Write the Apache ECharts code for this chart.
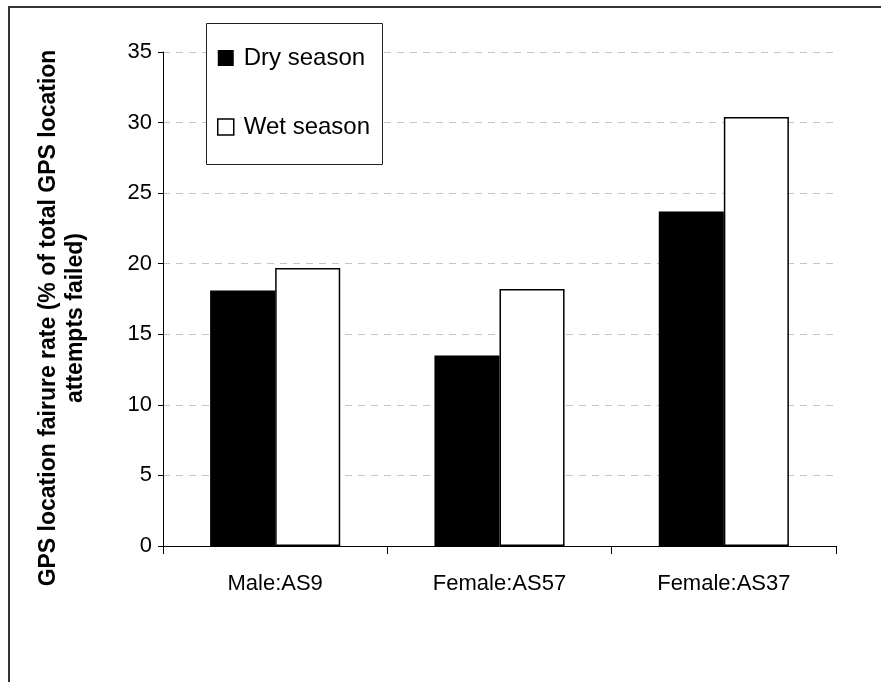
<!DOCTYPE html>
<html>
<head>
<meta charset="utf-8">
<style>
  html, body { margin: 0; padding: 0; background: #fff; }
  #chart { width: 881px; height: 682px; }
</style>
<script src="https://cdn.jsdelivr.net/npm/echarts@6/dist/echarts.min.js"></script>
</head>
<body>
<div id="chart"></div>
<script>
// GPS location failure rate per collared animal, by season
const categories = ['Male:AS9', 'Female:AS57', 'Female:AS37'];
const drySeason = [18.1, 13.5, 23.7];
const wetSeason = [19.7, 18.2, 30.4];
const yMin = 0, yMax = 35, yStep = 5;
const titleLines = ['GPS location fairure rate (% of total GPS location', 'attempts failed)'];
const seriesNames = ['Dry season', 'Wet season'];

const FONT = '"Liberation Sans", Arial, sans-serif';

const chart = echarts.init(document.getElementById('chart'), null, { renderer: 'canvas' });

chart.setOption({
  backgroundColor: '#ffffff',
  animation: false,
  grid: { left: 163, right: 45, top: 52, bottom: 136, containLabel: false },
  xAxis: {
    type: 'category',
    data: categories,
    axisLine: { lineStyle: { color: '#000', width: 1 } },
    axisTick: { show: true, length: 8, alignWithLabel: false, lineStyle: { color: '#000' } },
    axisLabel: { color: '#000', fontSize: 22, fontFamily: FONT, margin: 27 },
    splitLine: { show: false }
  },
  yAxis: {
    type: 'value',
    min: yMin, max: yMax, interval: yStep,
    axisLine: { show: true, lineStyle: { color: '#000', width: 1 } },
    axisTick: { show: true, length: 5, lineStyle: { color: '#000' } },
    axisLabel: { color: '#000', fontSize: 22, fontFamily: FONT, margin: 11 },
    splitLine: { show: true, lineStyle: { color: '#c4c4c4', type: [7, 6], width: 1 } }
  },
  legend: {
    orient: 'vertical',
    left: 217, top: 46,
    padding: 0,
    itemWidth: 16, itemHeight: 16, itemGap: 45,
    icon: 'rect',
    textStyle: { color: '#000', fontSize: 24, fontFamily: FONT, padding: [0, 0, 0, 5] },
    data: [
      { name: seriesNames[0], itemStyle: { color: '#000', borderColor: '#000', borderWidth: 0 } },
      { name: seriesNames[1], itemStyle: { color: '#fff', borderColor: '#000', borderWidth: 1.5 } }
    ],
    z: 6
  },
  graphic: [
    // outer frame
    { type: 'rect', z: 1, silent: true,
      shape: { x: 9, y: 7, width: 900, height: 700 },
      style: { fill: 'none', stroke: '#333', lineWidth: 2 } },
    // legend box
    { type: 'rect', z: 3, silent: true,
      shape: { x: 206.5, y: 23.5, width: 176, height: 141 },
      style: { fill: '#fff', stroke: '#222', lineWidth: 1 } },
    // y-axis title, two lines
    { type: 'text', z: 5, x: 49, y: 318, rotation: Math.PI / 2, silent: true,
      style: { text: titleLines[0], fill: '#000', font: 'bold 23px ' + FONT, align: 'center', verticalAlign: 'middle' } },
    { type: 'text', z: 5, x: 76, y: 318, rotation: Math.PI / 2, silent: true,
      style: { text: titleLines[1], fill: '#000', font: 'bold 23px ' + FONT, align: 'center', verticalAlign: 'middle' } }
  ],
  series: [
    {
      name: seriesNames[0], type: 'bar', data: drySeason,
      barGap: 0, barCategoryGap: '42%',
      itemStyle: { color: '#000', borderColor: '#000', borderWidth: 0 }
    },
    {
      name: seriesNames[1], type: 'bar', data: wetSeason,
      barGap: 0, barCategoryGap: '42%',
      itemStyle: { color: '#fff', borderColor: '#000', borderWidth: 1.5 }
    }
  ]
});
</script>
</body>
</html>
